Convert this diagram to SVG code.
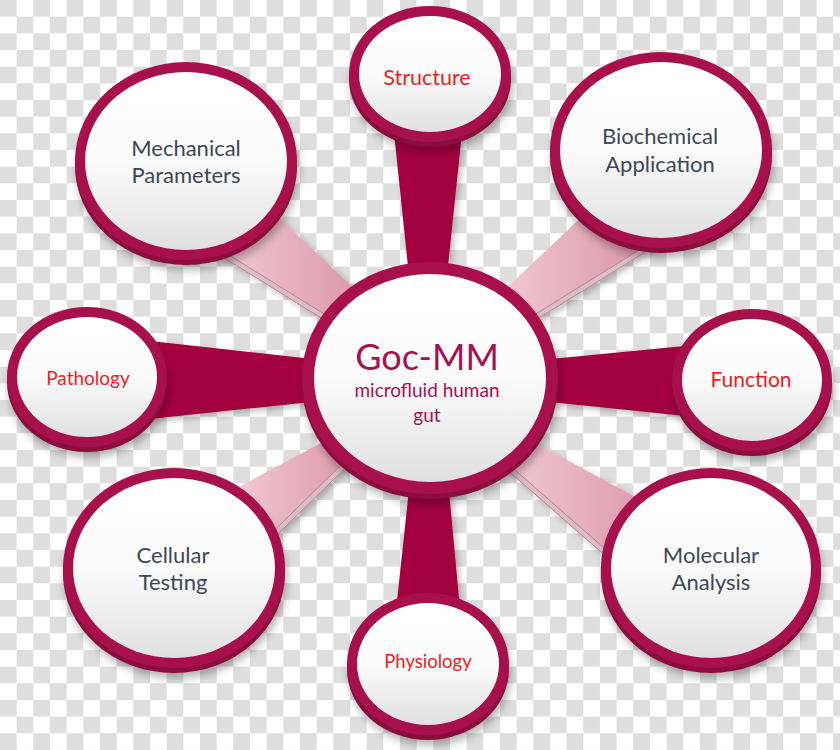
<svg xmlns="http://www.w3.org/2000/svg" width="840" height="750" viewBox="0 0 840 750">
<defs>
  <pattern id="chk" width="33.33" height="33.33" patternUnits="userSpaceOnUse">
    <rect width="33.33" height="33.33" fill="#ffffff"/>
    <rect width="16.67" height="16.67" fill="#dedede"/>
    <rect x="16.67" y="16.67" width="16.67" height="16.67" fill="#dedede"/>
  </pattern>
  <linearGradient id="face" x1="0" y1="0" x2="0" y2="1">
    <stop offset="0" stop-color="#ffffff"/>
    <stop offset="0.5" stop-color="#fbfbfb"/>
    <stop offset="1" stop-color="#e0e0e0"/>
  </linearGradient>
  <linearGradient id="pink" x1="0" y1="0" x2="1" y2="0">
    <stop offset="0" stop-color="#f3d2da"/>
    <stop offset="1" stop-color="#d98fa3"/>
  </linearGradient>
  <filter id="sh" x="-20%" y="-20%" width="140%" height="150%">
    <feDropShadow dx="2" dy="5" stdDeviation="4" flood-color="#000" flood-opacity="0.3"/>
  </filter>
  <filter id="shs" x="-20%" y="-20%" width="140%" height="140%">
    <feDropShadow dx="3" dy="3" stdDeviation="3" flood-color="#000" flood-opacity="0.25"/>
  </filter>
</defs>
<style>
  .base{fill:#8a0a3c;filter:url(#sh)}
  .ring{fill:#a8104c}
  .face{fill:url(#face)}
  .dark{fill:#a3033f}
  .pinkface{fill:url(#pink)}
  .bevel{fill:#dcbcc5;stroke:#b98797;stroke-width:1}
  text{font-family:Lato,"Open Sans","Liberation Sans",sans-serif;text-anchor:middle}
  .lbl{fill:#3c4858;font-size:22px}
  .red{fill:#f01c24}
  .ctr{fill:#a6124e}
</style>
<rect width="840" height="750" fill="url(#chk)"/>

<g id="connectors" filter="url(#shs)">
  <polygon class="dark" points="392.7,120 463.3,120 446.6,280 409.4,280"/>
  <polygon class="dark" points="410,480 448,480 461,620 395,620"/>
  <polygon class="dark" points="530,361 530,400 700,417.5 700,344.5"/>
  <polygon class="dark" points="330,361 330,400 150,419 150,341"/>
  <polygon class="pinkface" points="250,190 380,313 360,342 200,243"/>
  <polygon class="bevel" points="200,243 360,342 362.6,337.75 202.6,238.75"/>
  <polygon class="pinkface" points="610,190 480,313 500,342 660,243"/>
  <polygon class="bevel" points="660,243 500,342 497.4,337.75 657.4,238.75"/>
  <polygon class="pinkface" points="220,497 360,422 370,444 250,561"/>
  <polygon class="bevel" points="250,561 370,444 366.5,440.4 246.5,557.4"/>
  <polygon class="pinkface" points="500,424 680,521 650,595 480,446"/>
  <polygon class="bevel" points="480,446 650,595 653.3,591.2 483.3,442.2"/>
</g>

<g id="n-structure">
  <ellipse class="base" cx="430" cy="79" rx="81" ry="68"/>
  <ellipse class="ring" cx="430" cy="74" rx="81" ry="68"/>
  <ellipse class="face" cx="430" cy="74" rx="71" ry="58"/>
  <text class="red" x="427" y="85" font-size="21.5">Structure</text>
</g>

<g id="n-biochemical">
  <ellipse class="base" cx="661" cy="155" rx="111" ry="98"/>
  <ellipse class="ring" cx="661" cy="150" rx="111" ry="98"/>
  <ellipse class="face" cx="661" cy="150" rx="101" ry="88"/>
  <text class="lbl" x="660" y="144">Biochemical</text>
  <text class="lbl" x="660" y="172">Application</text>
</g>

<g id="n-mechanical">
  <ellipse class="base" cx="186" cy="166" rx="111" ry="99"/>
  <ellipse class="ring" cx="186" cy="161" rx="111" ry="99"/>
  <ellipse class="face" cx="186" cy="161" rx="101" ry="89"/>
  <text class="lbl" x="186" y="156">Mechanical</text>
  <text class="lbl" x="186" y="183">Parameters</text>
</g>

<g id="n-pathology">
  <ellipse class="base" cx="87" cy="382" rx="80" ry="70"/>
  <ellipse class="ring" cx="87" cy="377" rx="80" ry="70"/>
  <ellipse class="face" cx="87" cy="377" rx="70" ry="60"/>
  <text class="red" x="88" y="385" font-size="19">Pathology</text>
</g>

<g id="n-function">
  <ellipse class="base" cx="752" cy="385" rx="80" ry="71"/>
  <ellipse class="ring" cx="752" cy="380" rx="80" ry="71"/>
  <ellipse class="face" cx="752" cy="380" rx="70" ry="61"/>
  <text class="red" x="751" y="387" font-size="21">Function</text>
</g>

<g id="n-cellular">
  <ellipse class="base" cx="174" cy="573" rx="111" ry="100"/>
  <ellipse class="ring" cx="174" cy="568" rx="111" ry="100"/>
  <ellipse class="face" cx="174" cy="568" rx="101" ry="90"/>
  <text class="lbl" x="173" y="563">Cellular</text>
  <text class="lbl" x="173" y="590">Testing</text>
</g>

<g id="n-molecular">
  <ellipse class="base" cx="711" cy="573" rx="110" ry="100"/>
  <ellipse class="ring" cx="711" cy="568" rx="110" ry="100"/>
  <ellipse class="face" cx="711" cy="568" rx="100" ry="90"/>
  <text class="lbl" x="711" y="563">Molecular</text>
  <text class="lbl" x="711" y="590">Analysis</text>
</g>

<g id="n-physiology">
  <ellipse class="base" cx="428" cy="669" rx="81" ry="71"/>
  <ellipse class="ring" cx="428" cy="664" rx="81" ry="71"/>
  <ellipse class="face" cx="428" cy="664" rx="71" ry="61"/>
  <text class="red" x="428" y="668" font-size="18.5">Physiology</text>
</g>

<g id="n-center">
  <ellipse class="base" cx="430" cy="383" rx="128" ry="116"/>
  <ellipse class="ring" cx="430" cy="378" rx="128" ry="116"/>
  <ellipse class="face" cx="430" cy="378" rx="116" ry="104"/>
  <text class="ctr" x="427" y="370" font-size="36">Goc-MM</text>
  <text class="ctr" x="427" y="397" font-size="19">microfluid human</text>
  <text class="ctr" x="427" y="422" font-size="19">gut</text>
</g>
</svg>
